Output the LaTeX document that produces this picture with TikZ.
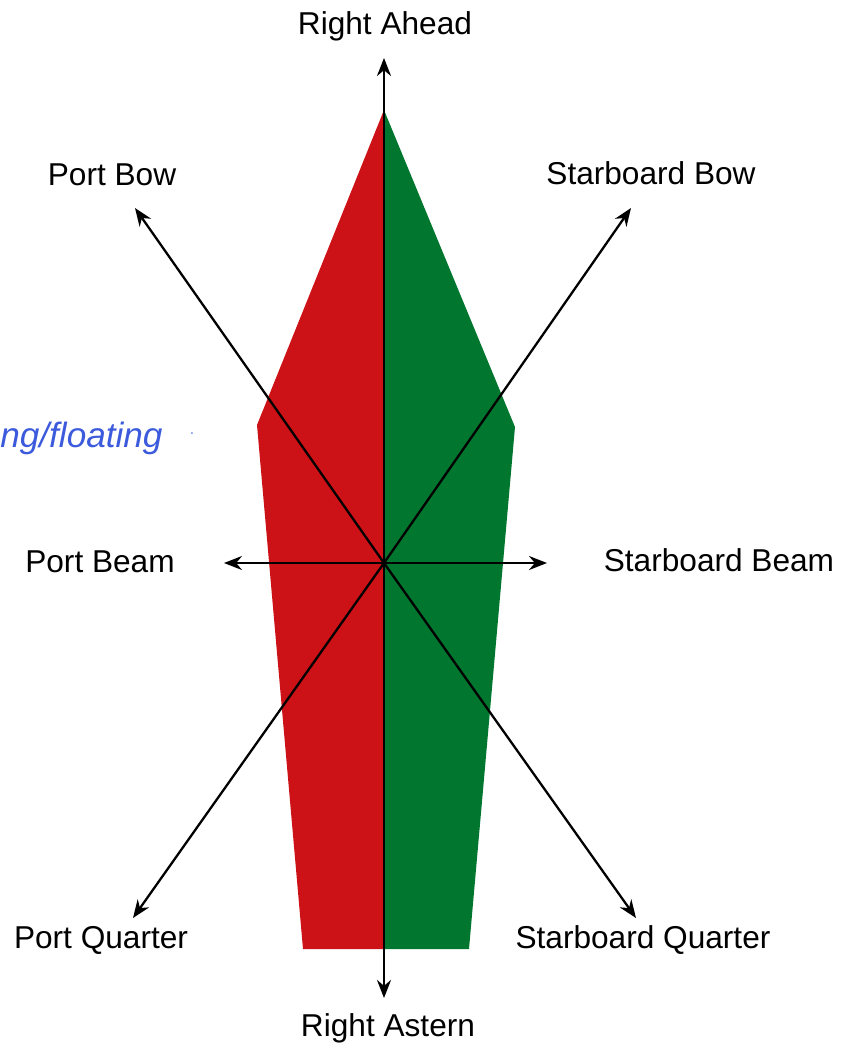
\documentclass[tikz,border=0pt]{standalone}
\usepackage{fontspec}
\setmainfont{Liberation Sans}
\usepackage{xcolor}
\usetikzlibrary{arrows.meta}

\definecolor{portred}{RGB}{204,18,22}
\definecolor{stbdgreen}{RGB}{0,118,46}
\definecolor{inkblue}{RGB}{60,90,220}

\begin{document}
\begin{tikzpicture}[
    x=0.02cm, y=-0.02cm,
    bearing/.style={font=\fontsize{18}{21}\selectfont, inner sep=0pt},
    arrow/.style={-{Stealth[length=3.6mm, width=2.8mm]}, line width=1.3pt}
]
\useasboundingbox (0,0) rectangle (841,1049);

% hull, port and starboard halves
\fill[portred] (384,110) -- (257,425) -- (303,949) -- (384,949) -- cycle;
\fill[stbdgreen] (384,110) -- (515,427) -- (469,949) -- (384,949) -- cycle;

\coordinate (centre) at (384,563);
\coordinate (ahead) at (384,58);
\coordinate (astern) at (384,998);
\coordinate (pbow) at (135,208);
\coordinate (sbow) at (631,208);
\coordinate (pbeam) at (224,563);
\coordinate (sbeam) at (547,563);
\coordinate (pqtr) at (133,918);
\coordinate (sqtr) at (636,918);

\draw[line width=1.3pt] (384,110) -- (centre);
\draw[arrow] (384,112) -- (ahead);
\draw[arrow] (centre) -- (astern);
\draw[arrow] (centre) -- (pbow);
\draw[arrow] (centre) -- (sbow);
\draw[arrow] (centre) -- (pbeam);
\draw[arrow] (centre) -- (sbeam);
\draw[arrow] (centre) -- (pqtr);
\draw[arrow] (centre) -- (sqtr);

\node[bearing] (lahead) at (385,26) {Right Ahead};
\node[bearing] (lpbow) at (112,175) {Port Bow};
\node[bearing] (lsbow) at (651,173) {Starboard Bow};
\node[bearing] (lpbeam) at (100,562) {Port Beam};
\node[bearing] (lsbeam) at (719,560) {Starboard Beam};
\node[bearing] (lpqtr) at (101,940) {Port Quarter};
\node[bearing] (lsqtr) at (643,940) {Starboard Quarter};
\node[bearing] (lastern) at (388,1028) {Right Astern};

% pen note on the scan
\node[font=\fontsize{20}{22}\selectfont\itshape, text=inkblue, anchor=west, inner sep=0pt] (note) at (0,438) {ng/floating};
\node[text=inkblue!60, inner sep=0pt] (dot) at (192,434) {.};

\end{tikzpicture}
\end{document}
